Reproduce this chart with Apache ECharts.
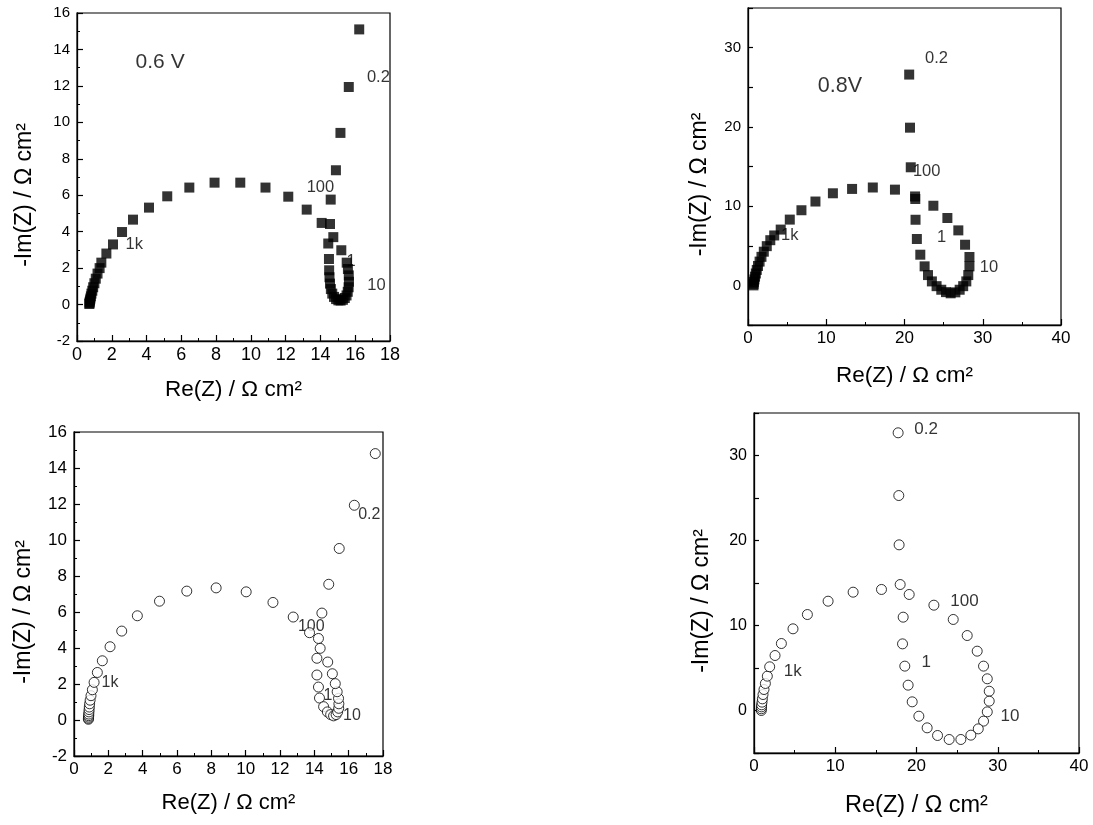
<!DOCTYPE html>
<html>
<head>
<meta charset="utf-8">
<script src="https://cdn.jsdelivr.net/npm/echarts@6/dist/echarts.min.js"></script>
<style>
html,body{margin:0;padding:0;background:#fff;}
#c{width:1093px;height:825px;}
</style>
</head>
<body>
<div id="c"></div>
<script>
// ---- Panel A: 0.6 V, filled squares ----
const aRe = [0.71,0.72,0.73,0.75,0.77,0.80,0.83,0.88,0.93,1.00,1.08,1.18,1.30,1.40,1.69,2.07,2.59,3.22,4.14,5.19,6.46,7.91,9.39,10.84,12.15,13.21,14.07,14.55,14.45,14.49,14.50,14.52,14.55,14.60,14.68,14.78,14.90,15.03,15.16,15.29,15.40,15.50,15.57,15.62,15.64,15.63,15.58,15.51,15.20,14.74,14.59,14.89,15.15,15.63,16.23];
const aIm = [0.03,0.08,0.15,0.23,0.33,0.45,0.60,0.76,0.95,1.17,1.42,1.70,2.00,2.30,2.80,3.30,3.98,4.66,5.32,5.94,6.42,6.69,6.69,6.42,5.92,5.21,4.48,4.42,3.35,2.50,1.88,1.50,1.15,0.85,0.60,0.42,0.30,0.23,0.22,0.26,0.36,0.50,0.70,0.95,1.25,1.60,1.95,2.30,2.98,3.70,5.76,7.37,9.42,11.94,15.10];
const aLabels = ['0.6 V','0.2','100','1k','10','1'];
const aLabRe = [4.78,17.33,14.0,3.29,17.22,15.76];
const aLabIm = [13.32,12.44,6.41,3.28,1.05,2.34];

// ---- Panel B: 0.8 V, filled squares ----
const bRe = [0.70,0.72,0.76,0.82,0.90,1.00,1.12,1.28,1.48,1.72,2.02,2.40,2.85,3.35,4.18,5.34,6.83,8.62,10.85,13.30,15.95,18.78,21.35,21.38,21.41,21.58,22.02,22.57,23.00,23.50,24.10,24.70,25.30,25.90,26.50,27.05,27.50,27.90,28.15,28.30,28.30,27.74,26.88,25.48,23.69,20.80,20.70,20.60];
const bIm = [0.00,0.20,0.45,0.75,1.10,1.50,1.95,2.45,3.00,3.60,4.25,4.95,5.70,6.30,7.04,8.30,9.48,10.58,11.62,12.17,12.35,12.08,11.22,10.90,8.28,5.85,3.87,2.40,1.30,0.50,-0.10,-0.55,-0.85,-1.00,-0.88,-0.55,-0.10,0.50,1.30,2.40,3.58,5.13,6.94,8.50,10.05,14.90,19.90,26.60];
const bLabels = ['0.8V','0.2','100','1k','1','10'];
const bLabRe = [11.74,24.1,22.83,5.34,24.75,30.8];
const bLabIm = [25.16,28.65,14.33,6.32,6.11,2.32];

// ---- Panel C: 0.6 V, open circles ----
const cRe = [0.84,0.84,0.85,0.86,0.86,0.87,0.88,0.89,0.91,0.94,0.99,1.07,1.17,1.36,1.65,2.10,2.78,3.69,4.98,6.57,8.28,10.03,11.59,12.77,13.72,14.24,14.34,14.15,14.15,14.24,14.30,14.54,14.76,14.95,15.12,15.27,15.36,15.42,15.43,15.41,15.33,15.22,15.05,14.78,14.44,14.84,15.45,16.33,17.55];
const cIm = [0.04,0.09,0.16,0.24,0.33,0.45,0.58,0.72,0.90,1.10,1.35,1.68,2.09,2.64,3.29,4.07,4.94,5.79,6.60,7.16,7.34,7.12,6.53,5.72,4.85,4.53,3.98,3.43,2.50,1.83,1.22,0.74,0.45,0.30,0.23,0.30,0.45,0.65,0.90,1.20,1.57,2.02,2.57,3.22,5.94,7.54,9.53,11.93,14.80];
const cLabels = ['0.2','100','1k','1','10'];
const cLabRe = [17.2,13.82,2.1,14.79,16.19];
const cLabIm = [11.41,5.18,2.09,1.33,0.22];

// ---- Panel D: 0.8 V, open circles ----
const dRe = [0.90,0.90,0.92,0.94,0.99,1.03,1.11,1.23,1.40,1.64,1.93,2.59,3.37,4.80,6.57,9.12,12.20,15.69,19.10,22.14,24.52,26.24,27.47,28.25,28.71,28.95,28.95,28.71,28.25,27.60,26.69,25.46,24.02,22.59,21.31,20.29,19.47,18.97,18.56,18.28,18.36,17.99,17.86,17.82,17.74];
const dIm = [0.00,0.20,0.43,0.67,0.98,1.37,1.88,2.47,3.18,4.04,5.14,6.47,7.88,9.61,11.29,12.86,13.92,14.24,13.65,12.39,10.71,8.82,6.98,5.22,3.73,2.27,1.10,-0.16,-1.25,-2.16,-2.90,-3.41,-3.41,-2.94,-2.04,-0.67,1.02,2.98,5.22,7.84,10.98,14.82,19.49,25.29,32.67];
const dLabels = ['0.2','100','1k','1','10'];
const dLabRe = [21.19,25.91,4.76,21.19,31.5];
const dLabIm = [33.05,12.86,4.63,5.71,-0.63];

// ---- axis ticks ----
const smallRange = {min: -2, max: 16, interval: 2};
const smallX = {min: 0, max: 18, interval: 2};
const bigRange = {min: -5, max: 35, interval: 5};
const bigX = {min: 0, max: 40, interval: 10};

const FONT = 'Liberation Sans, Arial, sans-serif';
const xName = 'Re(Z) / \u03A9 cm\u00B2';
const yName = '-Im(Z) / \u03A9 cm\u00B2';

function zip(a, b) { return a.map((v, i) => [v, b[i]]); }
function labs(names, xs, ys, big) {
  return names.map((n, i) => {
    const item = {name: n, value: [xs[i], ys[i]]};
    if (n.indexOf('V') >= 0) item.label = {fontSize: big};
    return item;
  });
}

const grids = [
  {left: 77, top: 13, width: 313, height: 328},
  {left: 748, top: 8, width: 313, height: 317},
  {left: 74, top: 432, width: 309, height: 324},
  {left: 754, top: 413, width: 325, height: 340}
].map(g => Object.assign({show: true, borderColor: '#000', borderWidth: 1.2, backgroundColor: 'transparent', outerBoundsMode: 'none'}, g));

function xAxis(idx, rng, fs, tfs, gap) {
  return Object.assign({
    type: 'value', gridIndex: idx,
    name: xName, nameLocation: 'middle', nameGap: gap,
    nameTextStyle: {fontSize: tfs, color: '#000', fontFamily: FONT},
    axisLine: {show: true, onZero: false, lineStyle: {color: '#000', width: 1.3}},
    axisTick: {show: true, inside: true, length: 6, lineStyle: {color: '#000', width: 1.2}},
    minorTick: {show: true, splitNumber: 2, length: 3, lineStyle: {color: '#000', width: 1}},
    axisLabel: {color: '#000', fontSize: fs, fontFamily: FONT, margin: 5},
    splitLine: {show: false}
  }, rng);
}
function yAxis(idx, rng, fs, tfs, gap, big) {
  const ax = Object.assign({
    type: 'value', gridIndex: idx,
    name: yName, nameLocation: 'middle', nameGap: gap,
    nameTextStyle: {fontSize: tfs, color: '#000', fontFamily: FONT, padding: [0, 36, 0, 0]},
    axisLine: {show: true, onZero: false, lineStyle: {color: '#000', width: 1.3}},
    axisTick: {show: true, inside: true, length: big ? 5 : 6, lineStyle: {color: '#000', width: 1.2}},
    minorTick: {show: !big, splitNumber: 2, length: 3, lineStyle: {color: '#000', width: 1}},
    axisLabel: {color: '#000', fontSize: fs, fontFamily: FONT, margin: 7},
    splitLine: {show: false}
  }, rng);
  if (big) ax.axisLabel.formatter = v => (Math.round(v) % 10 === 0 ? String(v) : '');
  return ax;
}

function dataSeries(idx, data, filled) {
  return {
    type: 'scatter', xAxisIndex: idx, yAxisIndex: idx, z: 3,
    symbol: filled ? 'rect' : 'circle', symbolSize: 10,
    itemStyle: filled ? {color: '#000'} : {color: '#fff', borderColor: '#000', borderWidth: 1},
    data: data, silent: true
  };
}
function labelSeries(idx, data, fs) {
  return {
    type: 'scatter', xAxisIndex: idx, yAxisIndex: idx, z: 2,
    symbol: 'circle', symbolSize: 1, itemStyle: {color: 'transparent'},
    label: {show: true, position: 'inside', formatter: '{b}', color: '#000', fontSize: fs, fontFamily: FONT},
    data: data, silent: true
  };
}

const chart = echarts.init(document.getElementById('c'), null, {renderer: 'canvas'});
chart.setOption({
  animation: false,
  backgroundColor: '#fff',
  textStyle: {fontFamily: FONT},
  grid: grids,
  xAxis: [xAxis(0, smallX, 18, 22.5, 37), xAxis(1, bigX, 17, 22.5, 39), xAxis(2, smallX, 17, 22, 36), xAxis(3, bigX, 17, 23.5, 41)],
  yAxis: [yAxis(0, smallRange, 15, 23, 41, false), yAxis(1, bigRange, 15, 23, 37, true), yAxis(2, smallRange, 17, 23, 39, false), yAxis(3, bigRange, 16, 23, 41, true)],
  series: [
    labelSeries(0, labs(aLabels, aLabRe, aLabIm, 21), 16.5),
    dataSeries(0, zip(aRe, aIm), true),
    labelSeries(1, labs(bLabels, bLabRe, bLabIm, 21.5), 16.5),
    dataSeries(1, zip(bRe, bIm), true),
    labelSeries(2, labs(cLabels, cLabRe, cLabIm, 20), 16),
    dataSeries(2, zip(cRe, cIm), false),
    labelSeries(3, labs(dLabels, dLabRe, dLabIm, 20), 17),
    dataSeries(3, zip(dRe, dIm), false)
  ]
});
</script>
</body>
</html>
